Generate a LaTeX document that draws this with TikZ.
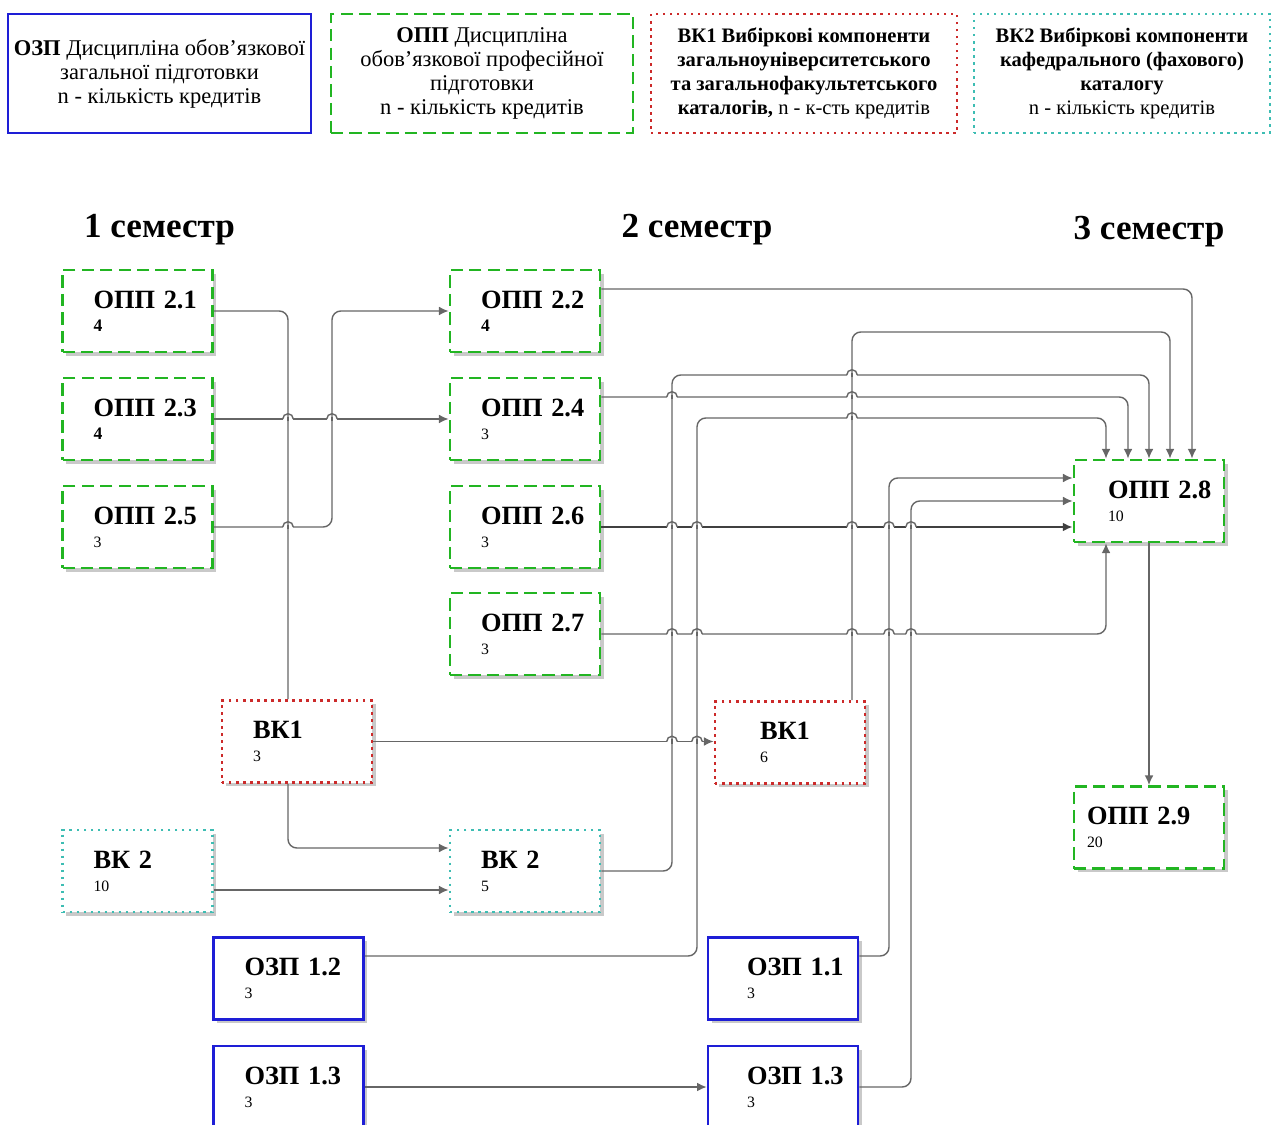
\documentclass[tikz,border=0pt]{standalone}
\usepackage{fontspec}
\setmainfont{Liberation Serif}
\usetikzlibrary{arrows.meta, calc, shadows}
\definecolor{oppgreen}{HTML}{22B522}
\definecolor{ozpblue}{HTML}{1E1ED6}
\definecolor{vkred}{HTML}{CC2A2A}
\definecolor{vkteal}{HTML}{3DBDB3}
\definecolor{wiregray}{HTML}{666666}
\newcommand{\ncred}[1]{{\fontsize{9}{11}\selectfont\mdseries #1}}
\newcommand{\ncredb}[1]{{\fontsize{10}{11}\selectfont #1}}
% small hop where a wire crosses a vertical lane
\newcommand{\wirehop}[2]{%
  \coordinate (hp) at (#1 |- #2);
  \fill[white] ([xshift=-3pt,yshift=-1.1pt]hp) rectangle ([xshift=3pt,yshift=1.1pt]hp);
  \draw[wiregray, line width=0.8pt] ([xshift=-3pt]hp) arc[start angle=180, end angle=0, radius=3pt];
  \draw[wiregray, line width=0.8pt] ([yshift=-1.3pt]hp) -- ([yshift=1.3pt]hp);
}

\begin{document}
\begin{tikzpicture}[>={Latex[length=5.5pt, width=5pt]},
  greendash/.style={draw=oppgreen, line width=1.6pt, dash pattern=on 7pt off 3.5pt},
  bluesolid/.style={draw=ozpblue, line width=1.5pt},
  reddots/.style={draw=vkred, line width=1.6pt, dash pattern=on 1.4pt off 2.6pt},
  tealdots/.style={draw=vkteal, line width=1.6pt, dash pattern=on 1.4pt off 2.6pt},
  course/.style={fill=white, minimum height=1.64cm, text width=1.76cm, inner xsep=0.62cm,
    align=left, font=\fontsize{15}{13}\selectfont\bfseries,
    drop shadow={shadow xshift=2pt, shadow yshift=-2pt, opacity=0.3, fill=black!70}},
  opp/.style={course, greendash},
  ozp/.style={course, bluesolid},
  vkone/.style={course, reddots},
  vktwo/.style={course, tealdots},
  legend/.style={minimum height=2.38cm, align=center, inner sep=2pt, font=\fontsize{12.8}{13.6}\selectfont},
  legendb/.style={legend, font=\fontsize{11.7}{13.6}\selectfont\bfseries},
  sem/.style={font=\fontsize{20}{24}\selectfont\bfseries},
  wire/.style={wiregray, line width=0.8pt, rounded corners=5pt}]

\useasboundingbox (0,0) rectangle (25.44,22.48);

% Legend
\node[legend, bluesolid, minimum width=6.06cm] (leg1) at (3.19,21.01)
  {{\bfseries ОЗП} Дисципліна обов'язкової\\загальної підготовки\\n - кількість кредитів};
\node[legend, greendash, minimum width=6.04cm] (leg2) at (9.64,21.01)
  {{\bfseries ОПП} Дисципліна\\обов'язкової професійної\\підготовки\\n - кількість кредитів};
\node[legendb, reddots, minimum width=6.12cm] (leg3) at (16.08,21.01)
  {ВК1 Вибіркові компоненти\\загальноуніверситетського\\та загальнофакультетського\\каталогів, {\mdseries n - к-сть кредитів}};
\node[legendb, tealdots, minimum width=5.92cm] (leg4) at (22.44,21.01)
  {ВК2 Вибіркові компоненти\\кафедрального (фахового)\\каталогу\\{\mdseries n - кількість кредитів}};

% Semesters
\node[sem] (sem1) at (3.19,17.88) {1 семестр};
\node[sem] (sem2) at (13.94,17.88) {2 семестр};
\node[sem] (sem3) at (22.98,17.84) {3 семестр};

%%% 1 семестр %%%
\node[opp] (o21) at (2.75,16.26) {ОПП~2.1\\\ncredb{4}};
\node[opp] (o23) at (2.75,14.10) {ОПП~2.3\\\ncredb{4}};
\node[opp] (o25) at (2.75,11.94) {ОПП~2.5\\\ncred{3}};
\node[vkone] (vl) at (5.94,7.65) {ВК1\\\ncred{3}};
\node[vktwo] (vlft) at (2.75,5.06) {ВК~2\\\ncred{10}};
\node[ozp] (zl2) at (5.77,2.91) {ОЗП~1.2\\\ncred{3}};
\node[ozp] (zl3) at (5.77,0.74) {ОЗП~1.3\\\ncred{3}};

%%% 2 семестр %%%
\node[opp] (o22) at (10.50,16.26) {ОПП~2.2\\\ncredb{4}};
\node[opp] (o24) at (10.50,14.10) {ОПП~2.4\\\ncred{3}};
\node[opp] (o26) at (10.50,11.94) {ОПП~2.6\\\ncred{3}};
\node[opp] (o27) at (10.50,9.80) {ОПП~2.7\\\ncred{3}};
\node[vktwo] (vm) at (10.50,5.06) {ВК~2\\\ncred{5}};
\node[vkone, inner xsep=0.9cm, text width=1.2cm] (vr) at (15.80,7.63) {ВК1\\\ncred{6}};
\node[ozp, inner xsep=0.78cm, text width=1.44cm] (zr1) at (15.66,2.91) {ОЗП~1.1\\\ncred{3}};
\node[ozp, inner xsep=0.78cm, text width=1.44cm] (zr3) at (15.66,0.74) {ОЗП~1.3\\\ncred{3}};

%%% 3 семестр %%%
\node[opp, inner xsep=0.68cm, text width=1.64cm] (o28) at (22.98,12.46) {ОПП~2.8\\\ncred{10}};
\node[opp, inner xsep=0.26cm, text width=2.48cm] (o29) at (22.98,5.93) {ОПП~2.9\\\ncred{20}};

% lanes
\coordinate (lB) at (6.64,0);
\coordinate (lC) at (13.44,0);
\coordinate (lD) at (13.94,0);
\coordinate (lF) at (17.78,0);
\coordinate (lG) at (18.22,0);
\coordinate (rowA) at (0,15.84);
\coordinate (rowB) at (0,14.98);
\coordinate (rowC) at (0,14.12);
\coordinate (vltop) at ([xshift=-0.18cm]vl.north);
\coordinate (vlbot) at ([xshift=-0.18cm]vl.south);
\coordinate (vrtop) at ([xshift=1.24cm]vr.north);
\coordinate (o24out) at ([yshift=0.44cm]o24.east);
\coordinate (in1) at ([xshift=-0.86cm]o28.north);
\coordinate (in2) at ([xshift=-0.42cm]o28.north);
\coordinate (in3) at (o28.north);
\coordinate (in4) at ([xshift=0.42cm]o28.north);
\coordinate (in5) at ([xshift=0.86cm]o28.north);
\coordinate (inb) at ([xshift=-0.86cm]o28.south);
\coordinate (inw) at ([yshift=0.46cm]o28.west);

% Connectors, left part
\draw[wire] (o21.east) -| (vltop);
\draw[wire, ->] (vlbot) |- ([yshift=0.46cm]vm.west);
\draw[wire, ->] (o23.east) -- (o24.west);
\draw[wire, ->] (o25.east) -| (lB |- o22.west) -- (o22.west);
\draw[wire, ->] ([yshift=-0.38cm]vlft.east) -- ([yshift=-0.38cm]vm.west);
\draw[wire, ->] (vl.east) -- (vl.east -| vr.west);
\draw[wire, ->] (zl3.east) -- (zr3.west);

% Connectors into ОПП 2.8
\draw[wire, ->] ([yshift=0.44cm]o22.east) -| (in5);
\draw[wire, ->] (vrtop) |- (rowA -| in4) -- (in4);
\draw[wire, ->] (vm.east) -| (lC |- rowB) -| (in3);
\draw[wire, ->] (o24out) -| (in2);
\draw[wire, ->] ([yshift=0.45cm]zl2.east) -| (lD |- rowC) -| (in1);
\draw[wire, ->] ([yshift=0.45cm]zr1.east) -| (lF |- inw) -- (inw);
\draw[wire, ->] (zr3.east) -| (lG |- o28.west) -- (o28.west);
\draw[wire, ->, line width=1.1pt, black!75] (o26.east) -- (o26.east -| o28.west);
\draw[wire, ->] (o27.east) -| (inb);
\draw[wire, ->] (o28.south) -- (o29.north);

% Hops
\foreach \vx/\hy in {vltop/o23.east, lB/o23.east, vltop/o25.east,
    lC/vl.east, lD/vl.east, vrtop/rowB, vrtop/rowC, lC/o24out, vrtop/o24out,
    lC/o26.east, lD/o26.east, vrtop/o26.east, lF/o26.east, lG/o26.east,
    lC/o27.east, lD/o27.east, vrtop/o27.east, lF/o27.east, lG/o27.east}
  \wirehop{\vx}{\hy};

\end{tikzpicture}
\end{document}
